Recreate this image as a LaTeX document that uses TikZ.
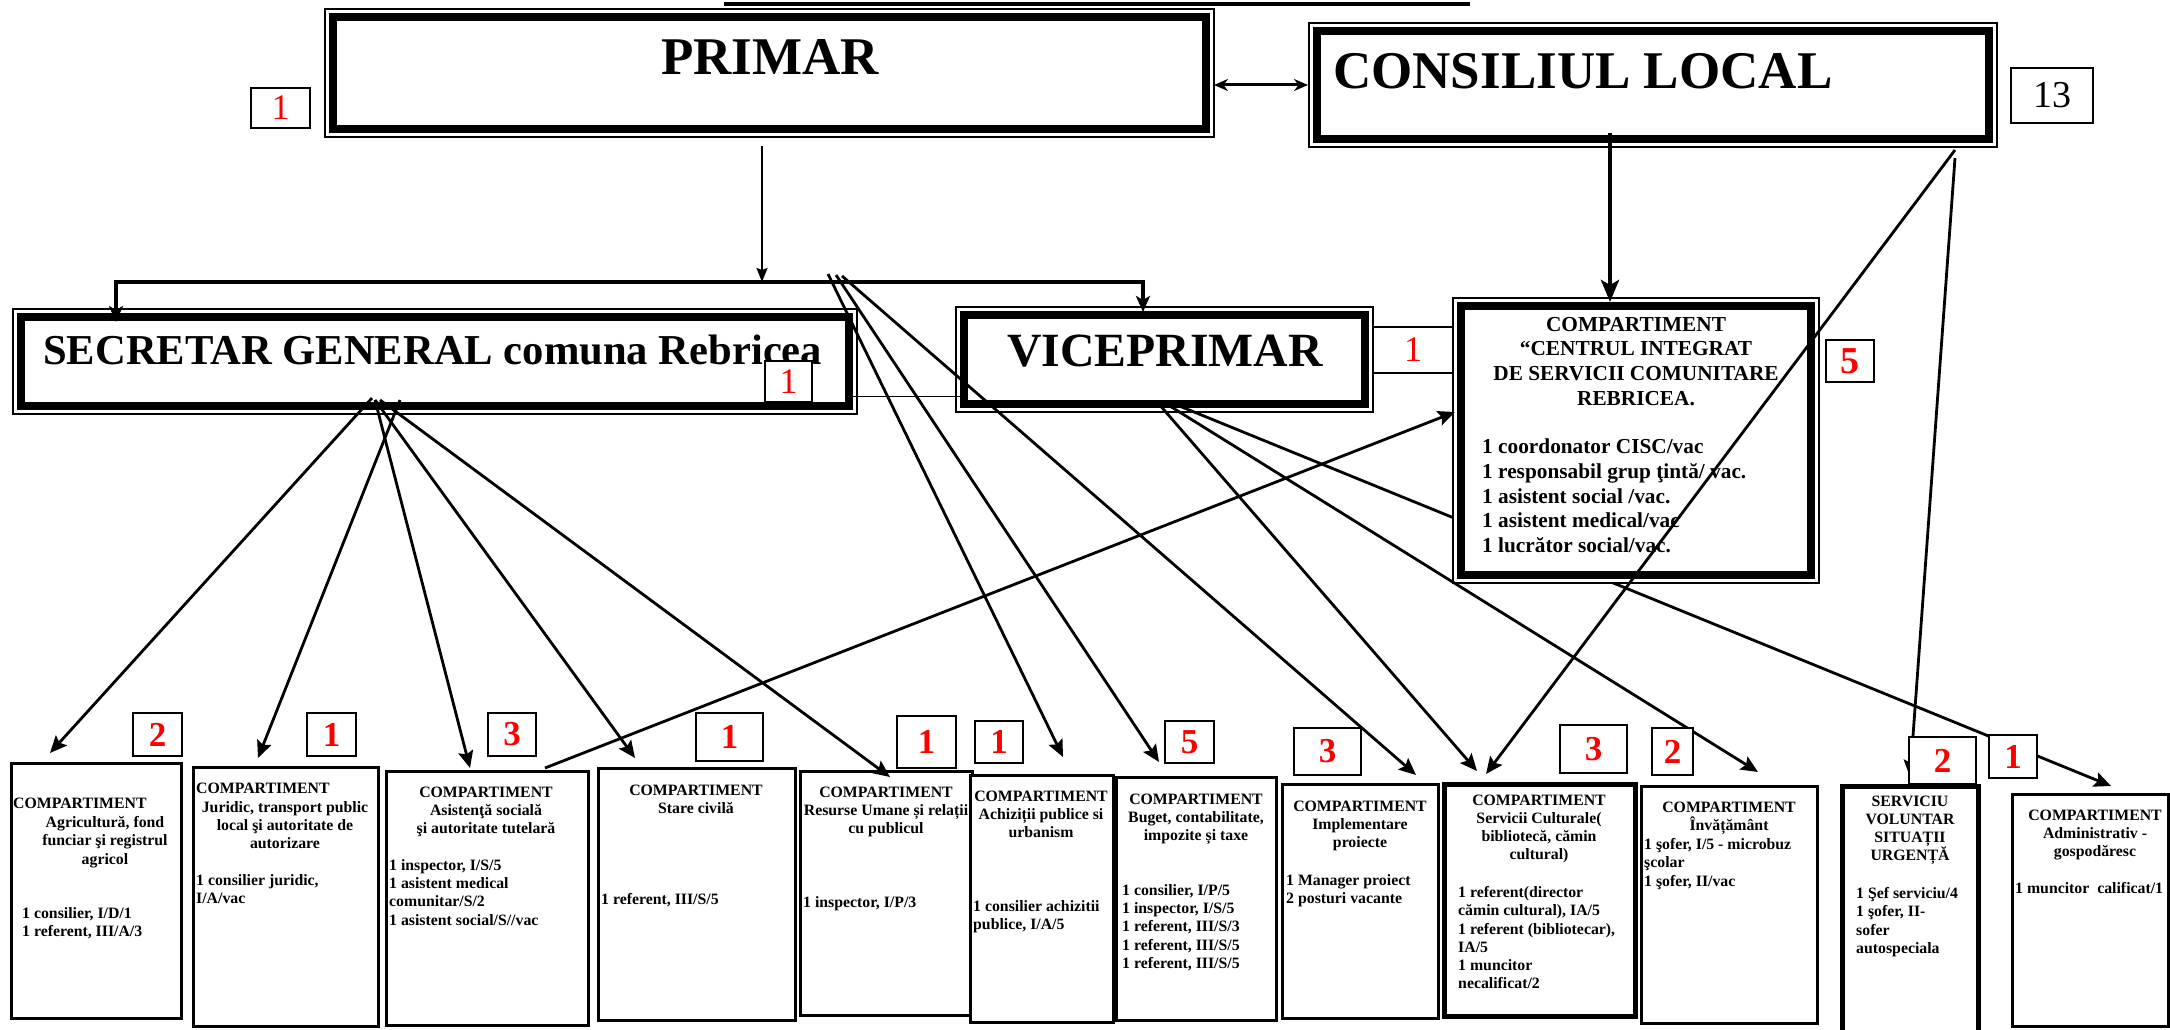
\documentclass[tikz,border=0pt]{standalone}
\usepackage{fontspec}
\setmainfont{Liberation Serif}
\usetikzlibrary{arrows.meta}
\newcommand{\fsz}[2]{\fontsize{#1pt}{#2pt}\selectfont}

\begin{document}
\begin{tikzpicture}[x=1pt, y=-1pt,
    bigbox/.style={preaction={draw=white, line width=17.5pt}, draw, fill=white, line width=7.5pt, inner sep=0pt, outer sep=0pt, anchor=north west},
    dept/.style={draw, fill=white, line width=3pt, inner sep=0pt, outer sep=0pt, anchor=north west},
    bigtxt/.style={inner sep=0pt, font=\bfseries\fsz{53}{60}},
    cisctxt/.style={inner sep=0pt, font=\bfseries\fsz{21.3}{24.7}},
    headtxt/.style={inner sep=0pt, align=center, anchor=north, font=\bfseries\fsz{15.8}{18.2}},
    stafftxt/.style={inner sep=0pt, align=left, anchor=north west, font=\bfseries\fsz{15.8}{18.2}},
    numbox/.style={draw, fill=white, line width=1.8pt, inner sep=0pt, text=red, font=\bfseries\fsz{35}{35}},
    numthin/.style={numbox, line width=1.2pt, font=\fsz{36}{36}},
    link/.style={line width=2.8pt, -{Stealth[length=17pt, width=15pt, inset=3pt]}},
  ]
  \useasboundingbox (0,0) rectangle (2170,1030);
  % rule cut at the top edge
  \draw[line width=4pt] (724,4) -- (1470,4);

  % Compartimente
  \node[dept, minimum width=170pt, minimum height=255pt] (agri) at (11,763) {};
  \node[headtxt, anchor=base west] (agrihead) at (13,808) {COMPARTIMENT};
  \node[headtxt] (agrisub) at (105,816.4) {Agricultură, fond\\funciar şi registrul\\agricol};
  \node[stafftxt] (agristaff) at (22,907.4) {1 consilier, I/D/1\\1 referent, III/A/3};

  \node[dept, minimum width=185pt, minimum height=259pt] (jur) at (193,767) {};
  \node[headtxt, anchor=base west] (jurhead) at (196,793) {COMPARTIMENT};
  \node[headtxt] (jursub) at (285,801.4) {Juridic, transport public\\local şi autoritate de\\autorizare};
  \node[stafftxt] (jurstaff) at (196,874.4) {1 consilier juridic,\\I/A/vac};

  \node[dept, minimum width=202pt, minimum height=254pt] (asist) at (386,771) {};
  \node[headtxt] (asisthead) at (486,786.4) {COMPARTIMENT\\Asistenţă socială\\şi autoritate tutelară};
  \node[stafftxt] (asiststaff) at (389,859.4) {1 inspector, I/S/5\\1 asistent medical\\comunitar/S/2\\1 asistent social/S//vac};

  \node[dept, minimum width=197pt, minimum height=252pt] (stare) at (598,768) {};
  \node[headtxt] (starehead) at (696,784.4) {COMPARTIMENT\\Stare civilă};
  \node[stafftxt] (starestaff) at (601,893.4) {1 referent, III/S/5};

  \node[dept, minimum width=172pt, minimum height=244pt] (res) at (800,771) {};
  \node[headtxt] (reshead) at (886,786.4) {COMPARTIMENT\\Resurse Umane și relații\\cu publicul};
  \node[stafftxt] (resstaff) at (803,896.4) {1 inspector, I/P/3};

  \node[dept, minimum width=143pt, minimum height=247pt] (achiz) at (970,775) {};
  \node[headtxt] (achizhead) at (1041,790.4) {COMPARTIMENT\\Achiziții publice si\\urbanism};
  \node[stafftxt] (achizstaff) at (973,900.4) {1 consilier achizitii\\publice, I/A/5};

  \node[dept, minimum width=160pt, minimum height=243pt] (buget) at (1116,777) {};
  \node[headtxt] (bugethead) at (1196,793.4) {COMPARTIMENT\\Buget, contabilitate,\\impozite și taxe};
  \node[stafftxt] (bugetstaff) at (1122,884.4) {1 consilier, I/P/5\\1 inspector, I/S/5\\1 referent, III/S/3\\1 referent, III/S/5\\1 referent, III/S/5};

  \node[dept, minimum width=156pt, minimum height=234pt] (impl) at (1282,784) {};
  \node[headtxt] (implhead) at (1360,800.4) {COMPARTIMENT\\Implementare\\proiecte};
  \node[stafftxt] (implstaff) at (1286,874.4) {1 Manager proiect\\2 posturi vacante};

  \node[dept, line width=5pt, minimum width=191pt, minimum height=232pt] (cult) at (1444,784) {};
  \node[headtxt] (culthead) at (1539,794.4) {COMPARTIMENT\\Servicii Culturale(\\bibliotecă, cămin\\cultural)};
  \node[stafftxt] (cultstaff) at (1458,886.4) {1 referent(director\\cămin cultural), IA/5\\1 referent (bibliotecar),\\IA/5\\1 muncitor\\necalificat/2};

  \node[dept, minimum width=176pt, minimum height=237pt] (inv) at (1641,786) {};
  \node[headtxt] (invhead) at (1729,801.4) {COMPARTIMENT\\Învățământ};
  \node[stafftxt] (invstaff) at (1644,838.4) {1 şofer, I/5 - microbuz\\şcolar\\1 şofer, II/vac};

  \node[dept, line width=5pt, minimum width=136pt, minimum height=260pt] (svsu) at (1842,786) {};
  \node[headtxt] (svsuhead) at (1910,795.4) {SERVICIU\\VOLUNTAR\\SITUAȚII\\URGENȚĂ};
  \node[stafftxt] (svsustaff) at (1856,887.4) {1 Şef serviciu/4\\1 şofer, II-\\sofer\\autospeciala};

  \node[dept, minimum width=156pt, minimum height=232pt] (adm) at (2012,794) {};
  \node[headtxt] (admhead) at (2095,809.4) {COMPARTIMENT\\Administrativ -\\gospodăresc};
  \node[stafftxt] (admstaff) at (2015,882.4) {1 muncitor~ calificat/1};

  % Conducere
  \node[numthin, minimum width=92pt, minimum height=46pt] (vicenum) at (1413,350) {1};
  \node[bigbox, minimum width=873pt, minimum height=112pt] (primar) at (333,17) {};
  \node[bigtxt, anchor=base] (primartxt) at (770,75) {PRIMAR};
  \node[bigbox, minimum width=672pt, minimum height=108pt] (consiliu) at (1317,31) {};
  \node[bigtxt, anchor=base west] (consiliutxt) at (1333,89) {CONSILIUL LOCAL};
  \node[bigbox, minimum width=828pt, minimum height=89pt] (secr) at (21,317) {};
  \node[bigtxt, font=\bfseries\fsz{42.6}{48}, anchor=base west] (secrtxt) at (43,364) {SECRETAR GENERAL comuna Rebricea};
  \node[bigbox, minimum width=401pt, minimum height=89pt] (vice) at (964,315) {};
  \node[bigtxt, font=\bfseries\fsz{47.7}{54}, anchor=base] (vicetxt) at (1165,366) {VICEPRIMAR};

  % runs under the CISC box
  \draw[link] ([shift={(208pt,1pt)}]vice.south west) -- ([shift={(99pt,8pt)}]adm.north west);

  \node[bigbox, minimum width=350pt, minimum height=269pt] (centru) at (1461,306) {};
  \node[cisctxt, align=center, anchor=north] (centruhead) at (1636,316.7) {COMPARTIMENT\\“CENTRUL INTEGRAT\\DE SERVICII COMUNITARE\\REBRICEA.};
  \node[cisctxt, align=left, anchor=north west] (centrustaff) at (1482,438.7) {1 coordonator CISC/vac\\1 responsabil grup ţintă/ vac.\\1 asistent social /vac.\\1 asistent medical/vac\\1 lucrător social/vac.};

  \foreach \b in {primar, consiliu, secr, vice, centru}
    \draw[line width=1.5pt] ([shift={(-8pt,-8pt)}]\b.south west) rectangle ([shift={(8pt,8pt)}]\b.north east);

  % Legaturi
  \coordinate (hub) at (762,282);
  \draw[line width=3pt, {Stealth[length=14pt, width=12pt]}-{Stealth[length=14pt, width=12pt]}] ([shift={(8pt,-12pt)}]primar.east) -- ([xshift=-9pt]consiliu.west);
  \draw[line width=2pt, -{Stealth[length=14pt, width=11pt, inset=2pt]}] ([shift={(429pt,-17pt)}]primar.south west) -- (hub);
  \draw[line width=4pt, -{Stealth[length=16pt, width=14pt, inset=4pt]}] (hub) -| ([shift={(95pt,-5pt)}]secr.north west);
  \draw[line width=4pt, -{Stealth[length=16pt, width=14pt, inset=4pt]}] (hub) -| ([shift={(179pt,3pt)}]vice.north west);
  \draw[line width=4.5pt, -{Stealth[length=22pt, width=18pt, inset=5pt]}] ([shift={(293pt,6pt)}]consiliu.south west) -- ([shift={(149pt,4pt)}]centru.north west);
  \draw[line width=1pt] ([yshift=10pt]secr.south east) -- ([yshift=8pt]vice.south west);

  \draw[link] ([shift={(638pt,-11pt)}]consiliu.south west) -- ([shift={(42pt,10pt)}]cult.north west);
  \draw[link] ([shift={(638pt,-19pt)}]consiliu.south west) -- ([shift={(68pt,9pt)}]svsu.north west);

  \draw[link] ([shift={(351pt,8pt)}]secr.south west) -- ([shift={(39pt,10pt)}]agri.north west);
  \draw[link] ([shift={(379pt,6pt)}]secr.south west) -- ([shift={(65pt,9pt)}]jur.north west);
  \draw[link] ([shift={(354pt,6pt)}]secr.south west) -- ([shift={(84pt,3pt)}]asist.north west);
  \draw[link] ([shift={(354pt,6pt)}]secr.south west) -- ([shift={(37pt,10pt)}]stare.north west);
  \draw[link] ([shift={(359pt,6pt)}]secr.south west) -- ([shift={(90pt,-6pt)}]res.north west);

  \draw[link] ([shift={(66pt,8pt)}]hub) -- ([shift={(93pt,18pt)}]achiz.north west);
  \draw[link] ([shift={(74pt,7pt)}]hub) -- ([shift={(43pt,15pt)}]buget.north west);
  \draw[link] ([shift={(80pt,6pt)}]hub) -- ([shift={(134pt,9pt)}]impl.north west);

  \draw[link] ([shift={(194pt,1pt)}]vice.south west) -- ([shift={(33pt,13pt)}]cult.north west);
  \draw[link] ([shift={(201pt,1pt)}]vice.south west) -- ([shift={(117pt,14pt)}]inv.north west);
  \draw[link] ([shift={(159pt,3pt)}]asist.north west) -- ([shift={(-6pt,-106pt)}]centru.north west);

  % Numar posturi
  \node[numthin, minimum width=59pt, minimum height=40pt] (primarnum) at (280.5,108) {1};
  \node[numthin, text=black, font=\fsz{38}{38}, minimum width=82pt, minimum height=55pt] (consiliunum) at (2052,95.5) {13};
  \node[numthin, minimum width=47pt, minimum height=41pt] (secrnum) at (788.5,381.5) {1};
  \node[numbox, font=\bfseries\fsz{38}{38}, minimum width=48pt, minimum height=42pt] (centrunum) at (1850,361) {5};
  \node[numbox, minimum width=49pt, minimum height=43pt] (agrinum) at (157.5,734.5) {2};
  \node[numbox, minimum width=49pt, minimum height=43pt] (jurnum) at (331.5,734.5) {1};
  \node[numbox, minimum width=48pt, minimum height=43pt] (asistnum) at (512,734.5) {3};
  \node[numbox, minimum width=67pt, minimum height=48pt] (starenum) at (729.5,737) {1};
  \node[numbox, minimum width=59pt, minimum height=52pt] (resnum) at (926.5,742) {1};
  \node[numbox, minimum width=48pt, minimum height=42pt] (achiznum) at (999,742) {1};
  \node[numbox, minimum width=49pt, minimum height=42pt] (bugetnum) at (1189.5,742) {5};
  \node[numbox, minimum width=67pt, minimum height=47pt] (implnum) at (1327.5,751.5) {3};
  \node[numbox, minimum width=67pt, minimum height=48pt] (cultnum) at (1593.5,749) {3};
  \node[numbox, minimum width=41pt, minimum height=47pt] (invnum) at (1672.5,751.5) {2};
  \node[numbox, minimum width=67pt, minimum height=47pt] (svsunum) at (1942.5,760.5) {2};
  \node[numbox, minimum width=48pt, minimum height=43pt] (admnum) at (2013,756.5) {1};
\end{tikzpicture}
\end{document}
